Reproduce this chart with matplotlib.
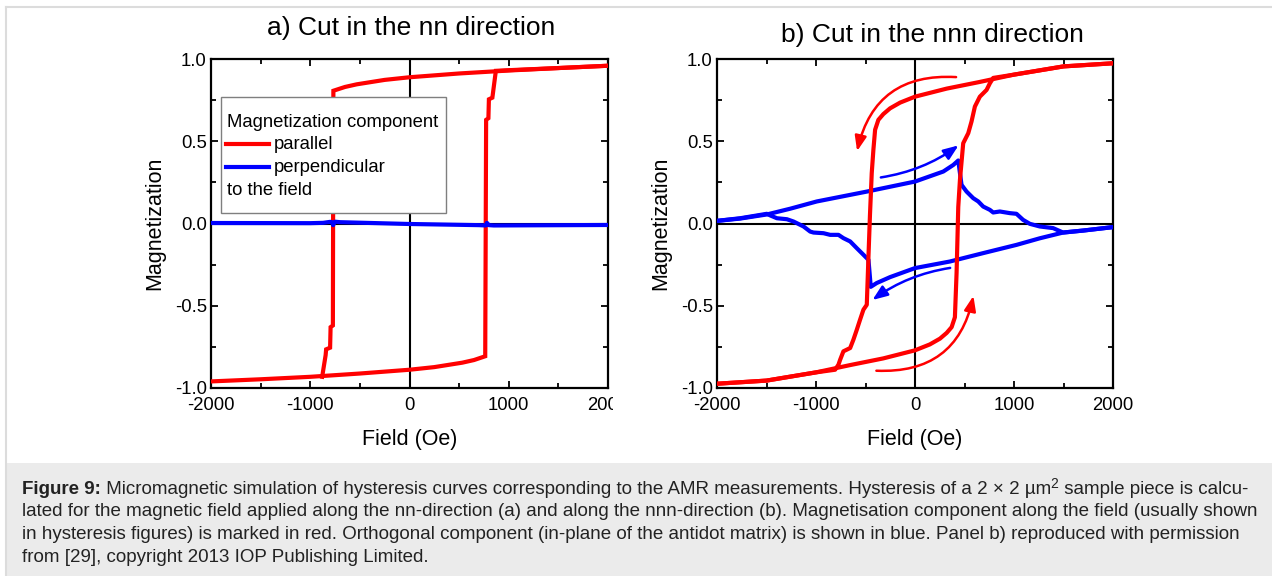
import matplotlib
matplotlib.use("Agg")
import matplotlib.pyplot as plt
from matplotlib.patches import Rectangle
from matplotlib.lines import Line2D
from matplotlib.ticker import MultipleLocator

plt.rcParams['font.family'] = ['Liberation Sans', 'DejaVu Sans']

# ---------------- data ----------------
# Panel a: field along the nn direction
a_par_down_H = [2000, 1500, 1000, 500, 0, -250, -365, -532, -650, -767,
                -772, -795, -800, -840, -845, -880]
a_par_down_M = [0.959, 0.945, 0.930, 0.912, 0.889, 0.873, 0.862, 0.846, 0.830, 0.807,
                -0.62, -0.63, -0.755, -0.765, -0.80, -0.932]
a_par_up_H = [-2000, -1500, -1000, -500, 0, 250, 365, 532, 650, 763,
              772, 795, 800, 835, 870, 1000, 1500, 2000]
a_par_up_M = [-0.960, -0.947, -0.932, -0.912, -0.889, -0.873, -0.862, -0.846, -0.830, -0.807,
              0.63, 0.64, 0.755, 0.765, 0.928, 0.932, 0.945, 0.959]
a_perp_H = [-2000, -1000, -870, -800, -780, -770, -750, -700, 0, 700, 770, 780, 800, 850, 2000]
a_perp_M = [0.003, 0.002, 0.004, 0.010, 0.008, -0.010, 0.011, 0.008, -0.003, -0.010,
            -0.012, 0.004, -0.010, -0.012, -0.009]

# Panel b: field along the nnn direction
b_par_down_H = [2000, 1500, 1000, 650, 320, 0, -150, -252, -320, -370, -403, -420,
                -437, -455, -470, -487, -521, -555, -588, -622, -655, -723, -756,
                -773, -807, -1000, -1500, -2000]
b_par_down_M = [0.974, 0.955, 0.905, 0.860, 0.820, 0.771, 0.735, 0.700, 0.665, 0.630,
                0.570, 0.450, 0.306, 0.050, -0.200, -0.494, -0.524, -0.585, -0.646,
                -0.706, -0.757, -0.777, -0.828, -0.858, -0.889, -0.905, -0.955, -0.974]
b_par_up_H = [-2000, -1500, -1000, -650, -320, 0, 150, 252, 320, 370, 403, 420,
              437, 454, 487, 538, 571, 605, 655, 723, 756, 790, 1000, 1500, 2000]
b_par_up_M = [-0.974, -0.955, -0.905, -0.860, -0.820, -0.771, -0.735, -0.700, -0.665,
              -0.630, -0.570, -0.300, 0.100, 0.265, 0.488, 0.549, 0.620, 0.711, 0.771,
              0.812, 0.852, 0.885, 0.905, 0.955, 0.974]
b_perp_down_H = [2000, 1697, 1496, 1260, 1025, 689, 353, 0, -252, -387, -447,
                 -470, -521, -588, -655, -723, -773, -857, -924, -1025, -1059, -1126,
                 -1227, -1294, -1395, -1462, -1496, -1765, -2000]
b_perp_down_M = [-0.022, -0.043, -0.055, -0.090, -0.130, -0.180, -0.231, -0.271, -0.326,
                 -0.362, -0.385, -0.221, -0.190, -0.150, -0.109, -0.089, -0.069, -0.069,
                 -0.059, -0.055, -0.049, -0.018, 0.012, 0.026, 0.032, 0.049, 0.059,
                 0.032, 0.016]
b_perp_up_H = [-2000, -1765, -1496, -1260, -992, -487, 0, 286, 387, 437,
               470, 521, 588, 639, 689, 756, 790, 857, 958, 1025, 1092, 1160,
               1260, 1395, 1496, 1697, 2000]
b_perp_up_M = [0.016, 0.030, 0.055, 0.090, 0.134, 0.194, 0.255, 0.316, 0.356, 0.383,
               0.235, 0.194, 0.154, 0.134, 0.103, 0.083, 0.067, 0.073, 0.063, 0.059,
               0.022, -0.002, -0.018, -0.028, -0.055, -0.043, -0.022]

# sweep-direction arrows in panel b: (start, end, colour)
sweep_arrows = [((415, 0.89), (-585, 0.44), 'red'),
                ((-390, -0.895), (590, -0.44), 'red'),
                ((-345, 0.28), (440, 0.475), 'blue'),
                ((355, -0.27), (-430, -0.465), 'blue')]

x_ticks = [-2000, -1000, 0, 1000, 2000]
x_ticklabels = ['-2000', '-1000', '0', '1000', '2000']
y_ticks = [-1.0, -0.5, 0.0, 0.5, 1.0]
y_ticklabels = ['-1.0', '-0.5', '0.0', '0.5', '1.0']

titles = ['a) Cut in the nn direction', 'b) Cut in the nnn direction']
legend_head = 'Magnetization component'
legend_labels = ['parallel', 'perpendicular']
legend_tail = 'to the field'

caption_lines = [
    'lated for the magnetic field applied along the nn-direction (a) and along the '
    'nnn-direction (b). Magnetisation component along the field (usually shown',
    'in hysteresis figures) is marked in red. Orthogonal component (in-plane of the '
    'antidot matrix) is shown in blue. Panel b) reproduced with permission',
    'from [29], copyright 2013 IOP Publishing Limited.',
]

# ---------------- figure ----------------
W, H = 1272, 576
fig = plt.figure(figsize=(W / 100, H / 100), dpi=100)
fig.patch.set_facecolor('white')

def fx(px):
    return px / W

def fy(py):
    return 1 - py / H

# page frame and caption background
fig.add_artist(Rectangle((fx(7), 0), 1, fy(463), transform=fig.transFigure,
                         facecolor='#ebebeb', edgecolor='none', zorder=0))
fig.add_artist(Line2D([fx(6), fx(6)], [0, fy(6.5)], transform=fig.transFigure,
                      color='#dcdcdc', lw=1.5, zorder=1))
fig.add_artist(Line2D([fx(6), 1], [fy(6.5), fy(6.5)], transform=fig.transFigure,
                      color='#dcdcdc', lw=1.5, zorder=1))

ax_a = fig.add_axes([fx(211), fy(388), fx(608) - fx(211), fy(59) - fy(388)])
ax_b = fig.add_axes([fx(717), fy(388), fx(1113) - fx(717), fy(59) - fy(388)])

for ax in (ax_a, ax_b):
    ax.set_xlim(-2000, 2000)
    ax.set_ylim(-1.0, 1.0)
    ax.axhline(0, color='black', lw=1.5, zorder=1)
    ax.axvline(0, color='black', lw=1.5, zorder=1)
    ax.set_xticks(x_ticks)
    ax.set_xticklabels(x_ticklabels)
    ax.set_yticks(y_ticks)
    ax.set_yticklabels(y_ticklabels)
    ax.xaxis.set_minor_locator(MultipleLocator(500))
    ax.yaxis.set_minor_locator(MultipleLocator(0.25))
    ax.tick_params(which='both', direction='in', top=True, right=True, width=1.3,
                   labelsize=13.3, colors='black')
    ax.tick_params(which='major', length=5)
    ax.tick_params(axis='x', which='major', pad=6.5)
    ax.tick_params(axis='y', which='major', pad=3)
    ax.tick_params(which='minor', length=3.5)
    for s in ax.spines.values():
        s.set_linewidth(1.6)
    ax.set_xlabel('Field (Oe)', fontsize=15.5, labelpad=11)
    ax.set_ylabel('Magnetization', fontsize=15.5, labelpad=7)

# panel a curves
ax_a.plot(a_par_down_H, a_par_down_M, color='red', lw=3, zorder=3, solid_joinstyle='miter')
ax_a.plot(a_par_up_H, a_par_up_M, color='red', lw=3, zorder=3, solid_joinstyle='miter')
ax_a.plot(a_perp_H, a_perp_M, color='blue', lw=3, zorder=4)

# panel b curves
ax_b.plot(b_perp_down_H, b_perp_down_M, color='blue', lw=3, zorder=3)
ax_b.plot(b_perp_up_H, b_perp_up_M, color='blue', lw=3, zorder=3)
ax_b.plot(b_par_down_H, b_par_down_M, color='red', lw=3, zorder=4)
ax_b.plot(b_par_up_H, b_par_up_M, color='red', lw=3, zorder=4)

rads = [0.42, 0.42, 0.12, 0.12]
for (start, end, col), rad in zip(sweep_arrows, rads):
    ax_b.annotate('', xy=end, xytext=start,
                  arrowprops=dict(arrowstyle='-|>,head_length=0.9,head_width=0.35',
                                  color=col, lw=1.8, shrinkA=0, shrinkB=0,
                                  connectionstyle=f'arc3,rad={rad}'), zorder=5)

# legend of panel a, drawn as a framed box
leg_fs = 13.3
ax_a.add_patch(Rectangle((0.025, 0.532), 0.567, 0.3525, transform=ax_a.transAxes,
                         facecolor='white', edgecolor='#7f7f7f', lw=1.0, zorder=6))
ax_a.text(0.0403, 0.8085, legend_head, transform=ax_a.transAxes, fontsize=leg_fs,
          va='center', ha='left', zorder=7)
for y, lab, col in zip([0.7416, 0.6717], legend_labels, ['red', 'blue']):
    ax_a.plot([0.0378, 0.146], [y, y], transform=ax_a.transAxes, color=col, lw=3,
              zorder=7, clip_on=False)
    ax_a.text(0.159, y, lab, transform=ax_a.transAxes, fontsize=leg_fs, va='center',
              ha='left', zorder=7)
ax_a.text(0.0403, 0.6018, legend_tail, transform=ax_a.transAxes, fontsize=leg_fs,
          va='center', ha='left', zorder=7)

# panel titles
fig.text(fx(411), fy(28), titles[0], fontsize=19, ha='center', va='center')
fig.text(fx(932), fy(35), titles[1], fontsize=19, ha='center', va='center')

# the left panel is cut off at its right edge
fig.add_artist(Rectangle((fx(612.5), fy(425)), fx(655) - fx(612.5), fy(392) - fy(425),
                         transform=fig.transFigure, facecolor='white',
                         edgecolor='none', zorder=10))

# caption
cap_kw = dict(fontsize=13.5, color='#222222')
x0 = fx(22)
t1 = fig.text(x0, fy(494), 'Figure 9:', fontweight='bold', va='baseline', ha='left', **cap_kw)
t2 = plt.annotate(' Micromagnetic simulation of hysteresis curves corresponding to the AMR '
                  'measurements. Hysteresis of a 2 \u00d7 2 \u00b5m',
                  xy=(1, 0), xycoords=t1, va='bottom', ha='left',
                  annotation_clip=False, **cap_kw)
t3 = plt.annotate('2', xy=(1, 0), xycoords=t2, xytext=(-0.3, 5), textcoords='offset points',
                  va='bottom', ha='left', fontsize=10, color='#222222', annotation_clip=False)
t4 = plt.annotate(' sample piece is calcu-', xy=(1, 0), xycoords=(t3, t2),
                  va='bottom', ha='left', annotation_clip=False, **cap_kw)
for line, yb in zip(caption_lines, [516.5, 539, 561.5]):
    fig.text(x0, fy(yb), line, va='baseline', ha='left', **cap_kw)

fig.savefig('out.png', dpi=100)
